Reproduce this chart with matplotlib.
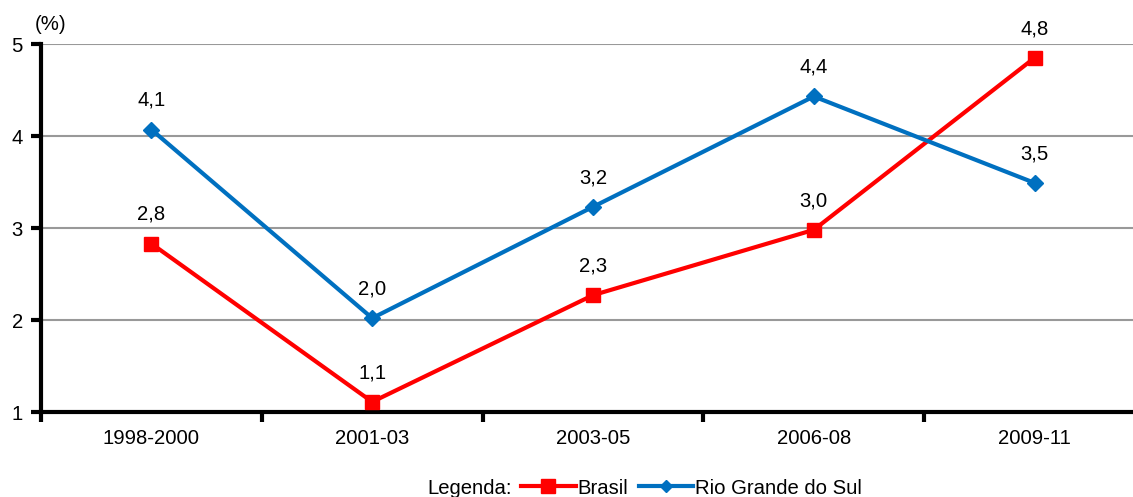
import matplotlib.pyplot as plt
from matplotlib.lines import Line2D

plt.rcParams['font.family'] = ['Liberation Sans', 'DejaVu Sans']

periods = ["1998-2000", "2001-03", "2003-05", "2006-08", "2009-11"]
brasil = [2.83, 1.11, 2.27, 2.98, 4.85]
rs = [4.07, 2.02, 3.23, 4.43, 3.49]
brasil_labels = ["2,8", "1,1", "2,3", "3,0", "4,8"]
rs_labels = ["4,1", "2,0", "3,2", "4,4", "3,5"]

red = "#FF0000"
blue = "#0070C0"
fs = 14.6

fig = plt.figure(figsize=(11.33, 4.97), dpi=100)
ax = fig.add_axes([41/1133, 85/497, 1104/1133, 368/497])

x = list(range(len(periods)))
ax.plot(x, brasil, color=red, lw=3, marker='s', ms=10, zorder=3)
ax.plot(x, rs, color=blue, lw=3, marker='D', ms=8, zorder=3)

for xi, v, t in zip(x, brasil, brasil_labels):
    ax.annotate(t, (xi, v), xytext=(0, 21), textcoords='offset points',
                ha='center', va='center', fontsize=fs)
for xi, v, t in zip(x, rs, rs_labels):
    ax.annotate(t, (xi, v), xytext=(0, 21), textcoords='offset points',
                ha='center', va='center', fontsize=fs)

ax.set_xlim(-0.5, len(periods) - 0.5)
ax.set_ylim(1, 5)
ax.set_yticks([1, 2, 3, 4, 5])
ax.yaxis.grid(True, color='#999999', lw=1.5)
ax.set_axisbelow(True)

ax.set_xticks(x)
ax.set_xticklabels(periods, fontsize=fs)
ax.set_xticks([i - 0.5 for i in range(len(periods) + 1)], minor=True)
ax.tick_params(axis='x', which='major', length=0, pad=12)
ax.tick_params(axis='x', which='minor', length=7, width=3, direction='out')
ax.tick_params(axis='y', length=7, width=3, labelsize=fs, pad=6)

for s in ['top', 'right']:
    ax.spines[s].set_visible(False)
for s in ['left', 'bottom']:
    ax.spines[s].set_linewidth(3)

fig.text(35/1133, 1 - 24/497, "(%)", fontsize=fs, va='center', ha='left')

handles = [Line2D([], [], color=red, lw=3, marker='s', ms=10),
           Line2D([], [], color=blue, lw=3, marker='D', ms=6)]
fig.text(427/1133, 1 - 488/497, "Legenda:", fontsize=fs, va='center', ha='left')
fig.legend(handles, ["Brasil", "Rio Grande do Sul"], loc='center left',
           bbox_to_anchor=(521/1133, 1 - 488/497), ncol=2, frameon=False,
           fontsize=fs, handlelength=2.7, handletextpad=0.1,
           columnspacing=0.5, borderpad=0, borderaxespad=0)

fig.savefig("out.png", dpi=100)
